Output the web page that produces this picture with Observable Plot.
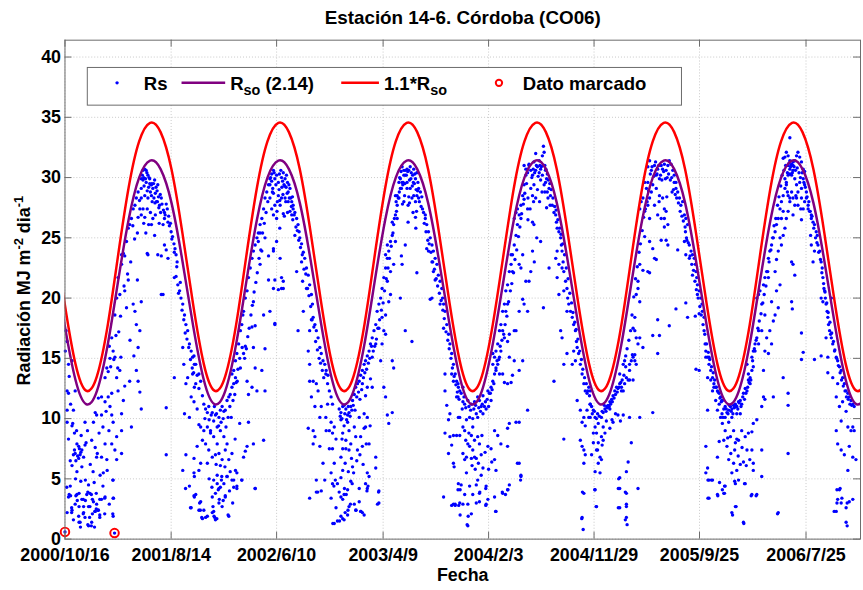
<!DOCTYPE html>
<html>
<head>
<meta charset="utf-8">
<script src="https://cdn.jsdelivr.net/npm/d3@7"></script>
<script src="https://cdn.jsdelivr.net/npm/@observablehq/plot@0.6"></script>
<style>
  html, body { margin: 0; padding: 0; background: #fff; overflow: hidden; }
  #chart svg { display: block; }
</style>
</head>
<body>
<div id="chart"></div>
<script>
// Daily global radiation Rs (MJ m-2 dia-1), as [day since 2000/10/16, value], one array per season.
const rs2001 = [
  [3,17.3],[6,16.4],[1,15.6],[10,14.5],[20,14.8],[6,12.3],[29,12.3],[10,12.1],[6,10.7],[24,10.7],[6,9.7],[20,9.4],[10,8.3],[57,9.7],[86,10.5],[81,9.7],[95,11.7],[104,11.8],[114,11.4],[90,10.3],[104,10.3],[133,10.3],[137,9.7],[123,11.8],[133,12.1],
  [34,7.9],[39,7.7],[29,7.1],[43,7.0],[48,7.4],[57,7.8],[53,6.8],[24,7.0],[39,6.7],[20,6.1],[48,6.0],[34,5.6],[27,7.4],[31,6.5],[45,7.2],[36,6.9],[41,7.5],[76,8.2],[86,7.6],[90,6.8],[104,6.8],[114,7.9],[119,6.6],[100,5.3],[109,5.5],[142,7.4],[147,6.6],[137,4.9],[147,8.5],[133,7.9],[161,7.1],
  [15,4.4],[10,3.5],[34,3.7],[48,3.3],[67,4.5],[71,3.8],[62,3.7],[81,3.1],[90,2.9],[95,2.4],[86,2.3],[104,3.3],[114,3.5],[20,2.4],[29,2.9],[39,1.9],[53,2.2],[43,1.4],[57,1.8],[67,1.1],[76,1.4],[24,1.6],[6,2.2],[137,1.9],[137,3.4],[71,2.7],[53,2.7],[0,0.6],[141,0.5],
  [5,4.3],[16,3.6],[40,3.8],[52,3.3],[35,3.2],[58,3.2],[75,3.7],[89,3.8],[99,3.3],[113,3.4],[78,3.3],[65,3.9],[19,2.6],[40,2.7],[67,2.7],[89,2.5],[85,2.3],[94,2.4],[19,2.2],[52,2.1],[78,2.1],[99,2.0],[113,2.1],[70,1.8],[99,1.8],[40,1.4],[65,1.2],[75,1.1],[84,1.0],[138,3.4],[136,2.1],[136,4.9],[44,1.0],[12,3.7],[31,3.6],
  [12,13.5],[16,11.2],[22,9.6],[27,8.8],[33,9.0],[46,8.6],[60,8.0],[64,9.0],[72,6.2],[80,5.6],[92,7.1],[97,8.8],[108,9.3],[117,10.6],[125,9.0],[128,11.0],[45,4.8],[58,4.9],[83,4.7],[108,4.4],[120,5.7],[126,2.9],[30,5.0],[15,6.5],
  [133,16.7],[142,18.6],[147,20.0],[151,21.7],[161,22.8],[166,23.7],[170,23.5],[175,24.7],[180,25.8],[184,26.1],[189,26.6],[194,27.4],[199,27.7],[203,28.3],[208,28.8],[217,29.9],[222,30.6],[227,30.7],[231,30.6],[236,30.2],[241,29.5],[246,29.4],
  [137,15.6],[142,15.1],[156,14.0],[159,15.1],[147,13.4],[151,12.3],[166,11.5],[170,12.7],[184,13.1],[203,14.0],[208,13.1],[213,12.2],[217,10.8],[189,9.3],[161,10.4],[161,9.0],[208,15.9],[213,17.3],[203,17.8],[194,19.5],[199,18.9],[217,19.7],[156,20.3],[170,20.6],[180,21.5],[206,21.5],[161,23.6],[114,13.4],[119,14.2],[123,13.9],[128,15.0],[130,14.3],[126,16.0],
  [206,25.4],[198,24.9],[187,23.0],[178,22.0],[168,21.0],[158,18.5],[153,17.2],[145,16.9],[139,14.9],[193,26.0],[212,28.1],[175,19.2],[185,16.5],[196,15.2],[150,14.2],
  [217,29.1],[222,29.8],[225,29.3],[227,28.5],[231,29.6],[234,28.9],[236,28.3],[238,29.2],[241,29.9],[244,29.4],[246,28.5],[247,29.5],[250,29.1],[253,28.3],[255,29.8],[257,28.7],[260,28.0],[262,28.9],[264,29.4],[266,28.4],[269,27.7],[272,27.1],[274,28.3],[217,28.3],[222,27.4],[227,26.7],[234,27.4],[238,26.1],[246,26.1],[250,26.6],[257,26.9],[217,26.9],[213,27.4],[208,26.7],[236,23.6],[234,23.7],[283,26.6],[279,26.1],
  [220,30.2],[224,30.0],[229,29.9],[233,30.4],[239,30.0],[243,28.8],[248,28.0],[252,29.5],[256,27.9],[259,29.2],[263,28.0],[267,27.5],[271,28.6],[276,27.8],[280,27.3],[285,26.9],[288,27.8],[295,26.8],[224,26.2],[230,25.4],[243,27.1],[255,25.2],[268,26.2],
  [283,27.1],[291,27.4],[293,26.3],[297,26.0],[302,25.5],[304,24.9],[310,24.5],[311,23.8],[316,23.6],[319,23.0],[311,21.7],[316,21.8],[321,21.1],[326,20.6],[330,20.0],[335,19.5],[340,18.6],[344,17.8],[349,17.3],[354,16.2],[359,15.6],[363,15.1],[368,14.5],
  [300,26.2],[306,25.1],[313,24.1],[318,22.6],[323,20.4],[328,21.3],[333,19.0],[338,18.2],[342,17.1],[347,16.6],[352,15.9],[357,14.9],[362,14.2],[366,13.8],
  [283,24.4],[274,23.5],[288,24.0],[293,23.3],[279,20.3],[288,10.9],[311,13.4],[335,15.9],[338,14.5],[344,12.9],[349,13.4],[340,10.4],[354,10.1],[359,11.8],[363,13.7],[368,12.6],[344,7.0],[354,4.4],[359,2.6],[368,3.5],[335,5.7],[368,5.2],[288,7.0],[264,23.6],[274,20.3],[343,4.2],[357,2.6]
];
const rs2002 = [
  [367,15.2],[372,14.5],[376,13.6],[381,13.7],[386,13.1],[372,12.9],[381,12.5],[391,11.9],[395,11.2],[400,10.8],[405,10.5],[409,11.0],[367,11.4],[376,10.8],[381,9.5],[386,9.3],[395,9.0],[405,9.3],[414,9.0],[367,6.7],[376,7.7],[386,6.3],[391,8.2],[400,7.9],[409,7.4],[381,5.7],[405,6.3],[372,3.7],[386,3.1],[381,2.4],[391,1.7],[405,1.9],[367,5.5],
  [419,10.5],[423,9.8],[428,10.3],[433,9.3],[438,10.1],[442,10.7],[447,11.0],[452,10.6],[456,10.7],[461,11.5],[466,11.8],[470,12.0],[475,12.6],[480,12.9],[485,13.4],[414,8.8],[423,8.5],[433,7.9],[442,9.0],[452,8.5],[461,7.9],[438,7.1],[419,6.8],[428,7.0],[447,6.6],[456,7.4],[466,6.6],[475,7.1],[485,5.7],[489,5.5],[442,6.1],[433,5.3],[423,4.9],[438,4.2],[428,3.8],[452,4.6],[461,5.2],[470,5.6],[480,4.9],[419,2.2],[428,1.6],[424,1.9],[438,3.0],[447,2.7],[456,3.5],[466,1.9],[395,2.4],
  [367,3.6],[383,3.0],[385,2.4],[389,1.8],[400,1.8],[419,3.5],[421,2.7],[423,2.3],[426,1.8],[432,1.7],[433,4.6],[436,4.1],[439,3.3],[442,4.3],[445,4.9],[461,5.2],[464,2.0],[475,4.9],[489,4.2],[503,4.9],[541,4.2],[456,3.6],[450,3.2],
  [398,10.0],[410,9.9],[416,10.3],[425,11.0],[431,10.4],[437,9.4],[444,9.7],[450,10.0],[458,9.3],[464,10.1],[469,11.0],[473,10.1],[478,11.5],[483,12.0],[490,13.1],[410,5.0],[418,4.3],[430,6.2],[446,5.2],[455,6.0],[468,4.0],[477,3.0],[484,8.3],[497,9.6],
  [475,13.7],[480,14.0],[485,14.8],[489,15.4],[494,16.2],[499,17.3],[503,17.8],[506,18.6],[508,18.9],[513,20.0],[518,20.6],[522,21.7],[527,22.5],[532,23.3],[536,23.9],[541,24.4],[546,25.0],[550,25.4],[555,26.1],[560,26.6],[565,27.4],[569,28.3],[574,28.8],[579,29.4],[583,29.9],[588,30.3],[593,30.6],
  [577,28.0],[572,27.1],[567,26.2],[562,25.4],[557,24.0],[552,23.3],[547,22.1],[543,21.3],[538,20.5],[533,19.4],[529,18.6],[524,17.5],[520,16.8],[516,15.8],[511,15.0],[504,15.9],[497,15.0],[492,14.1],[487,13.0],
  [499,14.2],[508,15.4],[513,16.0],[518,13.1],[522,12.0],[532,12.6],[541,14.2],[546,12.3],[560,14.0],[569,12.3],[569,15.8],[536,15.9],[532,17.6],[541,17.7],[536,19.7],[565,18.6],[583,18.9],[597,17.8],[522,9.7],[518,7.7],[508,6.8],[513,7.3],[536,7.9],[541,4.2],[565,8.2],[503,4.9],[489,4.4],[480,4.3],
  [579,21.5],[593,20.8],[597,21.5],[616,20.8],[621,21.4],[602,24.7],[593,24.1],[579,23.5],[560,23.9],[555,22.8],[550,24.7],[569,25.0],[555,25.4],
  [583,29.4],[588,29.7],[591,29.1],[593,28.7],[597,29.9],[602,30.2],[607,29.6],[610,30.3],[614,30.6],[616,30.0],[619,29.7],[621,30.4],[623,29.4],[626,29.9],[629,29.2],[630,30.2],[633,29.6],[635,28.8],[638,28.3],[640,29.1],[645,28.0],[647,28.4],[649,27.7],
  [585,30.0],[590,28.8],[595,30.4],[600,29.4],[604,28.0],[609,29.0],[611,28.1],[617,29.2],[620,28.6],[625,29.3],[628,28.0],[632,28.7],[637,29.4],[642,28.3],[644,27.6],[603,27.2],[624,26.8],[633,27.1],[611,25.8],
  [583,28.3],[588,27.4],[593,26.9],[597,27.7],[602,26.6],[607,28.5],[612,27.7],[616,28.3],[621,27.0],[626,28.3],[635,28.0],[640,27.2],[645,26.9],[649,27.4],[616,21.7],[621,20.8],[612,23.3],[593,23.9],[607,20.7],[597,17.9],
  [654,27.1],[659,26.6],[663,26.1],[666,25.5],[668,25.0],[673,24.5],[678,23.8],[682,23.3],[687,22.5],[692,21.9],[696,21.1],[701,20.3],[704,19.5],[706,18.4],[711,17.8],[715,17.3],[720,16.7],[725,15.9],[729,15.4],[734,14.8],[739,14.5],[743,14.0],[748,13.6],
  [648,26.5],[652,26.9],[657,25.9],[661,25.6],[665,24.8],[670,24.2],[675,23.6],[680,22.4],[685,22.0],[690,20.8],[694,20.2],[699,19.3],[703,18.2],[708,17.6],[713,16.4],[718,15.7],[723,15.0],[727,14.6],[732,14.0],[736,13.4],
  [654,25.2],[659,22.2],[673,23.0],[676,21.4],[678,18.9],[663,17.3],[687,20.8],[696,17.3],[701,18.2],[692,15.6],[696,14.5],[696,13.1],[701,11.8],[706,13.1],[711,11.0],[715,12.9],[720,12.3],[725,10.1],[729,11.0],[706,9.0],[692,9.2],[711,8.5],[725,7.7],[734,6.3],[715,4.9],[729,4.0],[696,3.4],[743,9.0],[739,4.9],[706,7.9],[715,3.9],[719,3.9]
];
const rs2003 = [
  [742,13.7],[747,12.9],[752,12.3],[757,11.8],[761,11.2],[747,11.2],[742,10.1],[752,9.0],[757,9.7],[761,8.8],[766,9.3],[771,8.3],[752,7.5],[761,7.5],[757,5.5],[766,6.3],[761,4.6],[757,3.4],[766,1.3],[775,1.5],[771,2.6],[780,3.9],[775,4.6],
  [780,10.8],[785,10.5],[790,11.0],[794,11.1],[799,10.8],[804,10.3],[808,10.5],[813,11.0],[818,11.5],[823,12.0],[827,12.6],[832,12.9],[837,13.1],[841,13.6],[846,14.0],[851,14.5],[855,14.8],[860,15.2],[865,15.6],[869,16.2],[874,16.7],
  [783,10.2],[788,10.0],[796,10.4],[801,9.9],[806,11.0],[811,10.2],[816,10.7],[820,11.1],[825,10.7],[830,11.8],[835,12.2],[839,11.6],[844,12.4],[849,13.4],[853,13.8],[858,14.1],[863,14.6],[867,15.0],[872,16.0],[788,8.3],[797,6.3],[806,5.6],[815,6.7],[821,5.5],[830,6.5],[839,7.0],[848,6.2],[857,7.9],[868,9.4],
  [785,9.9],[794,9.4],[804,9.7],[790,8.8],[799,8.2],[808,9.0],[813,7.9],[823,9.3],[827,8.5],[837,10.1],[841,8.5],[846,7.7],[851,9.2],[832,7.4],[799,7.5],[790,7.5],[785,6.8],[808,7.4],[855,9.3],[865,7.9],[860,10.1],[851,10.4],[874,12.6],[860,12.6],[846,12.9],[855,11.9],[869,13.3],[884,6.8],[884,5.9],[860,5.5],[855,4.6],[865,5.2],[893,4.0],[860,4.2],[893,3.0],[837,3.1],[841,2.3],[827,2.4],[823,2.9],[813,4.8],[804,4.1],[794,3.7],[785,3.5],[790,5.7],[818,6.0],[837,4.2],[846,2.2],[808,2.7],[804,2.0],[794,1.6],[785,1.9],
  [762,1.3],[781,1.5],[790,1.7],[797,2.2],[805,2.4],[812,2.9],[828,2.4],[842,2.3],[851,2.0],[795,4.2],[800,3.7],[817,4.6],[765,4.4],[769,4.9],[859,4.0],[862,4.4],[889,2.9],[892,3.9],[790,3.3],[785,5.1],
  [879,17.3],[884,17.8],[888,18.9],[893,19.5],[898,20.0],[902,20.8],[907,21.7],[912,22.5],[917,23.3],[921,23.9],[926,24.7],[931,25.2],[935,26.1],[940,26.9],[945,27.7],[950,28.3],[954,29.1],[959,29.6],[964,30.2],[968,30.6],[973,30.7],
  [943,27.2],[937,26.6],[933,25.4],[928,24.3],[923,23.3],[919,22.5],[914,21.6],[909,20.6],[905,19.6],[900,19.0],[895,18.2],[890,17.5],[886,16.6],[881,16.0],[877,15.6],
  [874,15.1],[884,16.2],[893,17.5],[902,18.4],[907,17.3],[912,17.0],[902,16.2],[898,14.8],[907,12.6],[912,11.8],[917,10.3],[921,9.6],[931,14.8],[935,14.2],[931,10.5],[917,21.4],[921,19.7],[926,20.3],[912,18.6],[912,23.6],[917,24.4],[940,24.7],[935,22.8],[926,22.2],[954,20.0],[968,17.3],[987,16.4],[968,24.4],[957,23.5],[959,22.8],[945,26.6],[931,26.3],
  [945,28.5],[950,29.6],[954,29.9],[959,30.9],[964,30.6],[968,30.2],[973,29.6],[978,30.6],[982,30.9],[985,30.4],[989,30.2],[992,30.7],[995,30.3],[997,29.9],[1001,30.4],[1004,29.6],[1006,29.1],[1011,28.8],[1015,28.4],
  [952,30.0],[956,30.5],[962,29.6],[967,29.5],[971,30.2],[975,30.5],[980,29.8],[984,29.9],[988,29.3],[991,29.6],[994,29.5],[999,29.0],[1003,28.9],[1008,28.0],[1013,27.6],[960,27.8],[980,27.9],[1000,27.2],[990,27.1],
  [940,28.5],[942,28.0],[948,28.3],[951,28.8],[957,29.1],[961,29.4],[966,28.5],[973,29.1],[978,28.4],[982,29.1],[987,28.3],[992,28.5],[997,28.0],[1001,28.5],[1006,28.3],[976,27.7],[964,28.0],[976,26.3],[997,26.7],[998,25.8],[1001,22.1],
  [1020,27.1],[1025,26.6],[1029,26.1],[1034,25.5],[1039,25.0],[1044,24.4],[1048,23.9],[1053,23.3],[1058,22.8],[1062,21.9],[1067,21.4],[1072,20.8],[1074,20.0],[1077,19.5],[1081,18.9],[1086,17.8],[1091,17.0],[1095,16.2],[1100,15.4],[1105,14.5],[1110,13.7],[1114,13.1],[1119,12.6],
  [1017,27.4],[1022,26.2],[1027,25.5],[1032,24.8],[1036,24.5],[1041,23.8],[1046,23.0],[1051,22.4],[1056,21.6],[1060,21.0],[1065,20.4],[1070,19.8],[1075,19.0],[1079,18.3],[1084,17.2],[1089,16.5],[1093,15.8],[1098,15.0],[1102,14.2],[1107,13.5],[1112,12.8],[1116,12.2],
  [1025,26.9],[1029,24.1],[1034,23.9],[1044,23.0],[1048,22.2],[1053,21.5],[1044,20.0],[1039,19.9],[1067,19.5],[1077,17.5],[1081,13.7],[1100,13.7],[1105,13.1],[1081,12.3],[1086,11.1],[1091,9.9],[1081,8.8],[1095,8.5],[1105,8.6],[1114,8.6],[1091,7.1],[1105,6.3],[1107,6.0],[1077,3.5],[1105,2.9],[1110,2.9],[1119,4.6],[1114,11.8],[1119,10.1],[1095,10.4],[1100,7.8],[1100,2.8],[1110,2.8]
];
const rs2004 = [
  [1118,12.9],[1123,12.3],[1127,12.1],[1132,11.4],[1137,11.2],[1146,11.5],[1156,11.2],[1165,11.4],[1174,11.8],[1179,11.5],[1184,11.0],[1189,11.9],[1193,11.0],[1198,10.8],[1203,12.3],[1207,12.1],[1212,12.6],[1212,11.5],[1217,13.1],[1222,13.7],[1226,14.2],[1231,14.5],[1236,15.1],[1240,15.6],[1132,12.6],[1118,11.8],
  [1121,11.6],[1130,10.8],[1135,11.8],[1140,10.9],[1149,11.0],[1154,10.7],[1163,10.8],[1168,11.1],[1177,10.9],[1182,10.6],[1187,11.2],[1196,11.4],[1201,11.6],[1205,11.0],[1210,12.1],[1215,12.4],[1220,12.9],[1140,8.2],[1149,8.8],[1158,6.1],[1167,5.8],[1176,6.3],[1186,8.6],[1195,7.2],[1205,5.8],[1214,6.4],
  [1123,10.1],[1137,9.0],[1132,9.3],[1142,9.9],[1151,10.1],[1160,10.0],[1170,10.4],[1174,10.1],[1189,10.4],[1160,9.3],[1156,8.6],[1165,8.2],[1174,8.5],[1179,7.9],[1146,7.9],[1151,7.7],[1160,7.4],[1203,7.7],[1212,7.5],[1222,9.0],[1231,8.6],[1240,7.9],[1259,7.7],[1264,9.6],[1259,9.2],[1283,9.7],[1292,9.7],[1142,6.8],[1132,7.1],[1137,6.6],[1156,6.7],[1165,6.8],[1170,6.7],[1189,5.9],[1184,7.0],[1123,8.6],[1222,6.6],[1226,5.7],[1142,5.5],[1174,4.9],[1184,5.3],[1151,4.4],[1170,4.5],[1198,4.4],[1179,3.8],[1203,3.3],[1127,4.5],[1118,4.1],[1137,3.7],[1160,3.7],[1132,2.9],[1146,2.9],[1170,3.0],[1156,2.1],[1146,1.1],[1198,2.9],[1226,2.3],[1245,3.8],[1259,4.1],[1264,4.5],[1292,6.3],[1297,5.2],[1123,3.0],
  [1124,4.1],[1124,2.0],[1147,1.9],[1144,1.2],[1120,2.8],[1180,3.9],[1179,3.1],[1197,4.2],[1197,2.8],[1222,3.5],[1225,2.3],[1244,3.9],[1260,4.1],[1253,3.7],[1296,4.9],
  [1217,14.5],[1222,15.1],[1226,15.6],[1231,16.2],[1236,17.3],[1240,17.8],[1245,18.9],[1250,19.5],[1254,20.6],[1259,21.1],[1264,22.2],[1269,22.8],[1273,23.6],[1278,24.4],[1283,25.2],[1287,26.1],[1292,26.9],[1297,27.7],[1302,28.5],[1306,29.4],[1311,30.2],[1316,30.7],[1320,31.0],
  [1313,29.5],[1308,28.7],[1304,27.8],[1299,27.0],[1294,25.9],[1290,25.1],[1285,24.0],[1280,23.2],[1276,22.1],[1271,21.2],[1267,20.6],[1262,19.7],[1257,18.5],[1252,17.8],[1248,17.0],[1243,16.5],[1238,16.0],[1234,14.9],[1229,14.8],
  [1217,15.4],[1226,14.0],[1236,13.7],[1245,13.7],[1250,13.0],[1259,12.9],[1269,13.0],[1273,13.6],[1278,14.8],[1292,14.0],[1302,14.8],[1264,15.1],[1283,17.3],[1292,18.9],[1302,19.9],[1306,19.5],[1316,18.9],[1320,21.4],[1311,21.4],[1297,22.5],[1292,22.8],[1302,23.6],[1269,23.6],[1273,22.2],[1259,19.5],[1254,18.9],[1245,17.3],[1278,17.3],[1264,17.0],[1259,16.4],[1250,16.7],[1316,10.7],[1287,6.3],[1297,5.3],
  [1283,27.1],[1278,26.6],[1287,27.4],[1297,26.6],[1306,28.2],[1316,27.4],[1317,26.5],[1330,23.9],[1335,23.0],[1325,22.2],[1353,24.7],[1330,26.3],
  [1306,31.0],[1311,30.7],[1316,30.4],[1320,31.1],[1325,30.6],[1330,30.2],[1334,31.3],[1339,32.0],[1344,30.9],[1349,31.4],[1353,30.7],[1358,31.8],[1361,32.6],[1363,32.1],[1365,31.0],[1367,30.6],[1370,29.9],[1372,30.3],[1339,30.6],[1349,30.4],[1353,29.8],[1358,30.2],[1334,29.4],[1344,29.0],[1330,28.5],[1325,29.1],[1339,28.3],[1333,28.0],[1317,28.3],[1323,27.4],[1363,29.4],[1367,29.6],[1372,28.8],[1377,29.1],[1381,28.5],[1374,28.3],[1365,28.8],[1380,27.7],[1386,27.7],[1391,27.1],[1342,25.0],[1334,26.1],[1377,22.5],[1361,19.2],
  [1328,30.0],[1332,30.7],[1336,30.4],[1341,31.0],[1346,30.1],[1351,31.0],[1355,30.9],[1360,31.0],[1368,30.7],[1375,29.8],[1379,29.5],[1383,29.0],[1388,28.3],[1350,28.0],[1357,28.8],[1370,27.5],
  [1396,26.9],[1398,26.3],[1400,25.8],[1405,25.5],[1410,25.0],[1412,24.4],[1414,23.9],[1417,23.0],[1419,22.2],[1424,21.4],[1428,20.8],[1430,20.0],[1433,19.5],[1438,18.9],[1443,18.4],[1447,17.8],[1452,17.3],[1455,16.4],[1457,15.9],[1461,15.4],[1466,14.5],[1471,13.7],[1476,12.9],[1480,12.3],[1485,12.1],[1490,12.6],[1494,12.3],
  [1393,27.6],[1397,27.3],[1402,26.5],[1407,25.8],[1411,25.3],[1416,24.5],[1421,23.6],[1426,22.5],[1431,21.6],[1436,20.4],[1441,19.6],[1445,18.8],[1450,18.0],[1454,17.4],[1459,16.6],[1464,15.6],[1469,14.9],[1473,14.1],[1478,13.4],[1483,12.9],[1487,12.3],[1492,11.9],
  [1400,23.9],[1396,23.3],[1405,22.8],[1400,21.7],[1414,22.5],[1405,20.3],[1419,20.6],[1428,18.9],[1410,17.3],[1414,16.7],[1419,14.5],[1428,15.4],[1443,14.5],[1447,15.6],[1452,14.8],[1391,13.1],[1457,11.5],[1466,10.7],[1471,9.7],[1476,10.1],[1480,9.4],[1485,10.7],[1494,11.2],[1490,10.1],[1419,8.3],[1466,8.2],[1471,7.7],[1476,7.4],[1480,7.0],[1476,6.3],[1471,1.8],[1474,0.8],[1476,3.8],[1472,3.9],[1470,1.7]
];
const rs2005 = [
  [1494,11.2],[1498,11.0],[1503,10.7],[1494,10.1],[1508,10.1],[1512,10.0],[1517,9.6],[1526,10.1],[1531,10.5],[1536,10.8],[1541,11.0],[1545,11.1],[1550,11.4],[1550,10.8],[1555,11.6],[1559,11.9],[1564,12.3],[1569,12.6],[1573,12.5],[1578,12.9],[1578,13.7],[1583,12.3],[1588,12.3],[1588,14.5],[1592,12.9],[1592,14.8],[1595,14.3],[1597,13.4],[1602,13.2],[1606,14.5],[1611,14.8],[1614,15.3],[1616,13.2],[1621,14.8],[1621,15.3],
  [1500,10.4],[1506,10.6],[1515,10.4],[1520,10.2],[1528,10.6],[1534,11.1],[1539,10.6],[1543,10.9],[1548,11.0],[1552,11.2],[1557,11.4],[1562,11.7],[1566,12.0],[1571,12.2],[1576,12.6],[1581,13.0],[1585,13.2],[1590,13.6],[1515,7.4],[1528,7.8],[1540,9.8],[1556,9.9],[1566,10.4],[1580,9.8],
  [1503,8.8],[1508,9.3],[1512,8.8],[1517,8.0],[1503,8.0],[1526,8.5],[1531,9.3],[1536,8.8],[1531,8.2],[1512,7.4],[1522,6.8],[1517,6.3],[1526,6.6],[1522,5.5],[1508,5.6],[1498,7.0],[1508,4.1],[1512,2.7],[1550,9.2],[1559,9.7],[1573,10.3],[1588,10.3],[1606,10.1],[1635,10.1],[1672,10.5],[1611,8.0],[1602,6.4],[1597,5.6],[1578,5.1],[1578,4.2],[1597,3.8],[1578,2.6],[1597,2.9],[1597,1.8],[1599,1.2],[1630,4.2],
  [1507,4.1],[1511,2.7],[1575,5.0],[1574,4.2],[1594,3.9],[1597,2.7],[1594,1.6],[1574,2.6],
  [1625,14.5],[1606,13.2],[1583,12.6],[1616,15.1],[1606,14.0],[1644,15.9],[1635,16.7],[1630,16.2],[1625,16.7],[1621,17.3],[1616,17.5],[1621,18.4],[1635,19.7],[1625,20.3],[1630,20.8],[1630,21.4],[1635,22.8],[1644,22.3],[1658,22.2],[1663,22.1],[1677,23.3],[1682,23.2],[1672,24.1],[1663,24.7],[1649,25.1],[1663,26.6],[1635,27.4],[1639,28.0],[1644,28.3],[1649,27.2],[1649,29.6],[1654,29.1],[1658,29.6],[1658,27.7],[1663,28.3],[1668,28.8],[1672,29.4],
  [1660,28.9],[1656,28.0],[1651,27.4],[1646,26.7],[1642,25.6],[1637,24.5],[1633,23.8],[1628,22.6],[1623,21.6],[1618,20.1],[1613,18.6],[1609,17.3],[1604,16.5],[1599,15.8],[1595,15.2],
  [1663,31.4],[1658,30.9],[1668,30.6],[1677,31.0],[1682,30.2],[1686,30.7],[1691,29.9],[1696,31.0],[1700,30.7],[1705,31.1],[1710,30.6],[1715,31.0],[1719,31.4],[1724,31.1],[1729,30.6],[1733,30.2],[1738,29.6],[1682,29.1],[1691,28.5],[1700,28.3],[1705,27.4],[1710,27.2],[1696,26.6],[1686,26.9],[1677,27.7],[1715,26.1],[1705,25.9],[1705,26.6],[1710,24.8],[1715,24.4],[1696,24.8],[1743,24.0],
  [1665,30.3],[1670,30.9],[1675,30.1],[1680,31.3],[1684,30.3],[1689,31.0],[1694,30.2],[1698,29.8],[1703,30.5],[1708,29.9],[1713,30.0],[1717,30.3],[1722,29.8],[1726,30.0],[1731,29.0],[1690,28.0],[1712,28.4],[1727,28.8],
  [1672,16.9],[1691,16.9],[1686,18.2],[1719,17.7],[1738,19.1],[1771,18.4],[1766,19.6],[1686,15.4],
  [1733,29.6],[1738,29.1],[1743,28.8],[1748,28.3],[1752,27.7],[1757,28.0],[1762,26.9],[1766,26.6],[1771,26.1],[1765,25.5],[1768,25.0],[1776,24.4],[1781,23.9],[1785,23.6],[1790,23.3],[1793,22.8],[1795,22.2],[1797,21.7],[1799,21.1],[1804,20.6],[1809,20.0],[1812,19.5],[1813,18.9],[1818,18.4],[1818,17.3],[1821,16.2],[1823,15.6],[1828,15.1],[1832,14.5],[1837,14.0],[1842,13.4],[1846,12.9],[1851,12.6],[1856,12.3],[1861,12.1],[1865,11.8],[1870,11.5],
  [1736,28.6],[1740,28.3],[1745,27.9],[1750,27.2],[1755,26.8],[1759,26.4],[1764,25.9],[1769,24.8],[1773,24.6],[1778,23.5],[1783,22.8],[1788,22.3],[1792,21.4],[1796,20.7],[1801,20.0],[1806,19.3],[1810,18.6],[1815,17.8],[1820,17.0],[1825,16.2],[1830,15.5],[1834,14.9],[1839,14.3],[1844,13.8],[1848,13.2],[1853,12.6],[1858,12.2],[1863,11.7],[1867,11.4],
  [1766,23.6],[1776,23.3],[1762,24.7],[1785,21.9],[1799,20.3],[1793,18.5],[1804,18.7],[1795,14.1],[1804,14.0],[1823,15.1],[1832,15.1],[1828,13.4],[1837,13.2],[1842,12.3],[1846,12.6],[1851,11.5],[1861,11.2],[1856,10.7],[1865,10.1],[1870,9.6],[1828,10.7],[1823,7.7],[1828,5.9],[1823,5.5],[1832,4.9],[1842,4.9],[1856,6.8],[1861,8.1],[1856,3.7],[1832,3.4],[1870,4.1],
  [1829,4.9],[1839,4.9],[1862,4.7],[1857,3.6],[1829,3.4]
];
const rs2006 = [
  [1869,11.5],[1874,10.8],[1878,11.0],[1883,10.5],[1888,10.7],[1893,11.0],[1897,10.8],[1902,11.1],[1907,11.2],[1911,11.0],[1916,11.4],[1921,11.5],[1925,11.2],[1930,12.1],[1935,12.5],[1940,12.3],[1944,13.2],[1949,13.4],[1954,14.0],[1958,14.3],[1869,10.4],[1878,10.1],[1888,9.7],[1897,10.1],[1911,10.4],[1921,10.4],
  [1872,10.1],[1881,10.8],[1886,10.4],[1890,11.1],[1895,10.6],[1900,10.4],[1904,10.9],[1909,11.0],[1914,10.8],[1918,11.3],[1923,11.0],[1928,11.8],[1933,11.6],[1937,12.1],[1942,12.6],[1946,13.0],[1951,13.2],[1885,8.4],[1894,7.1],[1905,7.4],[1915,6.9],[1926,7.6],[1938,6.1],[1948,6.6],
  [1878,9.0],[1874,8.2],[1883,7.7],[1893,8.5],[1902,9.0],[1907,8.0],[1911,8.3],[1916,8.2],[1925,9.0],[1935,8.5],[1944,8.8],[1954,8.9],[1958,9.6],[1968,9.9],[1888,6.6],[1902,6.3],[1911,5.7],[1897,5.5],[1921,6.2],[1930,6.4],[1940,7.4],[1954,7.4],[1958,6.3],[1958,5.7],[1982,7.4],[1982,5.2],[1878,4.4],[1874,3.8],[1907,4.6],[1916,4.9],[1935,4.6],[1907,2.7],[1897,2.2],[1930,1.4],[1954,3.7],[1968,3.7],[2029,2.2],[2057,7.1],
  [1876,4.4],[1876,3.8],[1905,4.8],[1933,4.6],[1952,3.6],[1966,3.6],[1909,2.7],[1899,2.0],[1931,1.3],[2027,2.1],
  [1940,14.5],[1944,13.7],[1949,12.9],[1954,15.1],[1958,15.6],[1963,16.2],[1968,16.7],[1973,17.3],[1968,20.0],[1973,20.3],[1977,20.6],[1982,19.5],[1987,21.1],[1991,21.7],[1996,22.2],[2001,23.3],[2005,23.9],[2010,24.4],[2015,25.0],[2020,25.5],[2024,26.1],[2029,26.6],[2034,27.4],[2038,28.0],[2043,28.5],[2048,29.1],[2052,29.6],[2057,30.2],[2062,30.7],[2067,31.0],[2071,31.3],
  [2036,29.3],[2031,28.4],[2027,27.7],[2022,26.6],[2017,26.0],[2013,25.0],[2008,24.0],[2003,23.0],[1999,22.2],[1994,21.0],[1989,20.3],[1985,19.6],[1980,18.7],[1975,18.1],[1971,17.5],[1966,16.5],[1961,15.8],[1956,14.8],
  [1982,17.3],[1991,15.6],[2001,15.4],[2010,16.2],[2005,17.3],[2020,18.6],[2015,18.1],[2029,19.2],[2024,20.6],[2010,19.7],[2001,21.7],[1991,18.6],[1973,16.2],[1963,15.6],[1987,14.0],[1996,16.7],[2020,22.2],[2024,23.2],[2038,24.4],[2034,25.0],[2029,23.9],[2043,25.2],[2048,25.8],[2038,26.6],[2043,27.2],[2052,26.6],[2057,27.2],[2062,28.3],[2034,21.1],[2043,13.4],[2057,12.1],[2057,11.1],[2015,11.8],[1987,11.8],[1982,11.0],[1991,11.6],
  [2043,31.6],[2048,31.7],[2052,32.1],[2057,31.8],[2062,31.4],[2067,31.1],[2071,31.0],[2076,31.4],[2081,31.8],[2085,32.1],[2090,31.7],[2095,31.3],[2100,30.7],[2104,30.5],[2062,33.3],[2057,31.0],[2062,30.3],[2067,30.2],[2071,30.6],[2076,29.9],[2081,29.4],[2085,28.8],[2090,29.6],[2095,29.1],[2100,29.9],[2104,29.4],[2109,28.8],[2048,29.9],[2052,29.4],[2057,28.5],[2062,28.0],[2067,28.8],[2071,28.3],[2076,27.7],[2071,26.9],[2081,28.3],[2085,27.7],[2095,28.3],[2100,27.4],[2104,28.0],[2114,27.4],[2118,27.2],[2123,26.9],
  [2040,30.2],[2045,30.6],[2050,31.0],[2055,30.4],[2060,31.2],[2064,30.9],[2069,30.4],[2074,30.9],[2078,30.6],[2083,30.8],[2088,30.4],[2092,30.0],[2097,30.4],[2102,29.6],[2106,29.2],[2055,28.8],[2079,28.5],[2093,27.4],
  [2067,23.0],[2071,22.8],[2076,21.9],[2067,19.7],[2069,19.1],[2095,17.1],[2100,15.5],[2095,14.9],[2128,23.0],[2095,26.5],[2123,24.4],[2121,25.2],
  [2109,28.3],[2114,27.7],[2123,26.6],[2128,26.3],[2132,26.1],[2137,25.5],[2140,25.2],[2142,24.4],[2147,23.9],[2151,23.0],[2154,22.5],[2156,21.7],[2159,20.8],[2161,20.6],[2163,20.0],[2165,19.5],[2168,18.9],[2170,18.4],[2172,17.8],[2175,17.3],[2178,17.0],[2180,16.7],[2184,16.2],[2189,15.6],[2194,15.1],[2198,14.8],[2203,14.3],[2208,14.0],[2212,13.4],[2217,12.9],[2222,12.3],[2227,12.1],[2231,11.8],[2236,11.5],[2241,11.2],[2245,11.0],
  [2111,28.4],[2116,28.0],[2120,27.2],[2125,26.8],[2130,25.8],[2135,25.0],[2139,24.6],[2144,23.8],[2149,23.2],[2153,22.1],[2158,21.2],[2162,20.5],[2167,19.6],[2171,18.8],[2176,18.0],[2181,17.1],[2186,16.4],[2190,15.7],[2195,15.0],[2200,14.4],[2205,13.8],[2209,13.2],[2214,12.7],[2219,12.3],[2223,11.8],[2228,11.6],[2233,11.2],[2238,11.1],
  [2132,23.9],[2151,20.0],[2156,19.7],[2180,20.0],[2165,16.7],[2170,15.1],[2170,13.8],[2184,13.4],[2198,12.9],[2194,11.8],[2203,11.0],[2212,11.4],[2222,10.6],[2227,9.3],[2236,9.0],[2241,9.3],[2245,9.0],[2208,9.8],[2194,9.0],[2198,7.9],[2208,7.4],[2217,7.0],[2231,7.7],[2241,6.8],[2250,6.6],[2227,5.7],[2203,4.1],[2198,3.3],[2194,2.3],[2208,3.0],[2222,1.4],[2231,3.1],[2241,3.3],[2132,14.9],[2151,15.2],
  [2196,4.1],[2205,4.2],[2210,3.4],[2196,3.0],[2225,3.0],[2188,2.3],[2222,2.6],[2225,1.1]
];
// Flagged observations (circled)
const datoMarcado = [[0, 0.6], [141, 0.5]];

// Clear-sky radiation Rso, mid-month values (Jan..Dec), MJ m-2 dia-1
const rsoMonthly = [12.3, 16.2, 21.2, 26.5, 30.0, 31.4, 30.7, 27.9, 23.1, 17.8, 13.2, 11.2];

// Axis ticks
const xTickLabels = ["2000/10/16", "2001/8/14", "2002/6/10", "2003/4/9", "2004/2/3", "2004/11/29", "2005/9/25", "2006/7/25"];
const yTicks = [0, 5, 10, 15, 20, 25, 30, 35, 40];

const DAY = 864e5;
const start = Date.UTC(2000, 9, 16);
const xEnd = Date.UTC(2006, 11, 27);
const toPoint = ([d, v]) => ({date: new Date(start + d * DAY), value: v});
const rs = [...rs2001, ...rs2002, ...rs2003, ...rs2004, ...rs2005, ...rs2006].map(toPoint);
const marked = datoMarcado.map(toPoint);

const rso = [];
for (let y = 2000; y <= 2007; y++) {
  for (let m = 0; m < 12; m++) {
    const t = Date.UTC(y, m, 15);
    if (t >= Date.UTC(2000, 6, 1) && t <= Date.UTC(2007, 4, 1)) rso.push({date: new Date(t), rso: rsoMonthly[m]});
  }
}

const parseTick = d3.utcParse("%Y/%m/%d");
const fmtTick = d3.utcFormat("%Y/%-m/%-d");
const xTicks = xTickLabels.map(parseTick);

const W = 870, H = 590, mL = 65, mR = 3, mT = 40, mB = 47;
const fw = W - mL - mR, fh = H - mT - mB;
const axisColor = "#6b6b6b";
const gridStyle = {stroke: "#c8c8c8", strokeOpacity: 1, strokeWidth: 1, strokeDasharray: "1,2"};

const svg = Plot.plot({
  width: W, height: H,
  marginLeft: mL, marginRight: mR, marginTop: mT, marginBottom: mB,
  style: {fontFamily: "'Liberation Sans', Arial, Helvetica, sans-serif", fontSize: "18px", fontWeight: "bold", color: "#000", background: "#fff", overflow: "visible"},
  x: {type: "utc", domain: [new Date(start), new Date(xEnd)], axis: null},
  y: {domain: [0, 41.4], axis: null},
  marks: [
    Plot.gridX(xTicks, gridStyle),
    Plot.gridY(yTicks, gridStyle),
    Plot.dot(rs, {x: "date", y: "value", r: 1.7, fill: "#0000ff", stroke: "none"}),
    Plot.line(rso, {x: "date", y: "rso", stroke: "#800080", strokeWidth: 2.5, curve: "natural", clip: true}),
    Plot.line(rso, {x: "date", y: d => 1.1 * d.rso, stroke: "#ff0000", strokeWidth: 2.5, curve: "natural", clip: true}),
    Plot.dot(marked, {x: "date", y: "value", r: 4.3, stroke: "#ff0000", strokeWidth: 2, fill: "none"}),
    Plot.frame({stroke: axisColor}),
    Plot.ruleX(xTicks, {stroke: axisColor, insetTop: fh - 7}),
    Plot.ruleX(xTicks, {stroke: axisColor, insetBottom: fh - 7}),
    Plot.ruleY(yTicks, {stroke: axisColor, insetRight: fw - 7}),
    Plot.ruleY(yTicks, {stroke: axisColor, insetLeft: fw - 7}),
    Plot.axisX(xTicks, {anchor: "bottom", tickSize: 0, tickPadding: 9, tickFormat: fmtTick, label: null}),
    Plot.axisY(yTicks, {anchor: "left", tickSize: 0, tickPadding: 4, label: null}),
    Plot.text(["Fecha"], {text: d => d, frameAnchor: "bottom", lineAnchor: "middle", dy: 36}),
    Plot.text(["Estación 14-6. Córdoba (CO06)"], {text: d => d, frameAnchor: "top", lineAnchor: "middle", dy: -22, fontSize: 19})
  ]
});

// Y axis title with superscripts
const root = d3.select(svg);
const yl = root.append("text")
  .attr("transform", "translate(30,293) rotate(-90)")
  .attr("text-anchor", "middle")
  .attr("fill", "#000")
  .attr("font-size", 18);
yl.append("tspan").text("Radiación MJ m");
yl.append("tspan").attr("font-size", 13).attr("dy", -7).text("-2");
yl.append("tspan").attr("font-size", 18).attr("dy", 7).text(" dia");
yl.append("tspan").attr("font-size", 13).attr("dy", -7).text("-1");

// Legend box
const lg = root.append("g").attr("font-size", 18.7).attr("fill", "#000").attr("text-anchor", "start");
lg.append("rect").attr("x", 88).attr("y", 68).attr("width", 599).attr("height", 38)
  .attr("fill", "#fff").attr("stroke", axisColor).attr("stroke-width", 1);
const ly = 83.5, lb = 90.5;
lg.append("circle").attr("cx", 118).attr("cy", ly).attr("r", 1.7).attr("fill", "#0000ff");
lg.append("text").attr("x", 145).attr("y", lb).text("Rs");
lg.append("line").attr("x1", 183).attr("x2", 227).attr("y1", ly).attr("y2", ly).attr("stroke", "#800080").attr("stroke-width", 2.5);
const t2 = lg.append("text").attr("x", 232).attr("y", lb);
t2.append("tspan").text("R");
t2.append("tspan").attr("font-size", 14.5).attr("dy", 5).text("so");
t2.append("tspan").attr("dy", -5).text(" (2.14)");
lg.append("line").attr("x1", 344).attr("x2", 382).attr("y1", ly).attr("y2", ly).attr("stroke", "#ff0000").attr("stroke-width", 2.5);
const t3 = lg.append("text").attr("x", 387).attr("y", lb);
t3.append("tspan").text("1.1*R");
t3.append("tspan").attr("font-size", 14.5).attr("dy", 5).text("so");
lg.append("circle").attr("cx", 503).attr("cy", ly).attr("r", 3.2).attr("fill", "none").attr("stroke", "#ff0000").attr("stroke-width", 2);
lg.append("text").attr("x", 527).attr("y", lb).text("Dato marcado");

document.getElementById("chart").appendChild(svg);
</script>
</body>
</html>
